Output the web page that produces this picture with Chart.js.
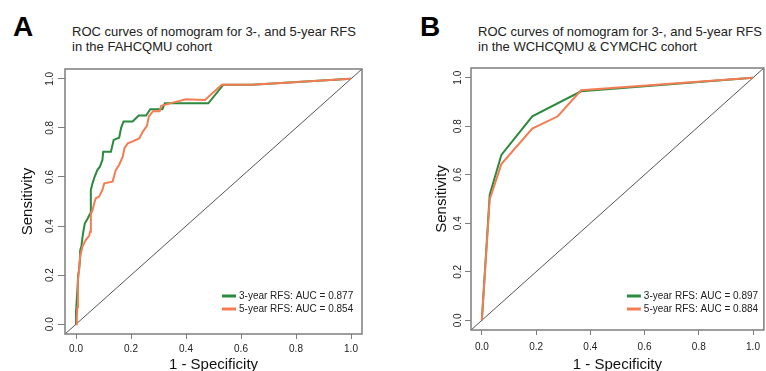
<!DOCTYPE html>
<html lang="en">
<head>
<meta charset="UTF-8">
<title>ROC curves of nomogram for 3-, and 5-year RFS</title>
<script src="https://cdn.jsdelivr.net/npm/chart.js"></script>
<style>
    * { margin: 0; padding: 0; box-sizing: border-box; }
    body {
        width: 766px;
        height: 371px;
        overflow: hidden;
        background: #fff;
        position: relative;
        font-family: 'Liberation Sans', Arial, sans-serif;
        color: #111;
    }
    canvas { position: absolute; top: 0; }
    #chartA { left: 0; }
    #chartB { left: 383px; }
    .tag {
        position: absolute;
        top: 13px;
        font-size: 28px;
        line-height: 28px;
        font-weight: bold;
        color: #000;
    }
    .title {
        position: absolute;
        top: 25px;
        font-size: 13px;
        line-height: 14.5px;
        color: #222;
        white-space: nowrap;
    }
</style>
</head>
<body>
    <div class="tag" style="left:13px">A</div>
    <div class="title" style="left:72px">ROC curves of nomogram for 3-, and 5-year RFS<br>in the FAHCQMU cohort</div>
    <canvas id="chartA" width="383" height="380"></canvas>

    <div class="tag" style="left:420px">B</div>
    <div class="title" style="left:478px">ROC curves of nomogram for 3-, and 5-year RFS<br>in the WCHCQMU &amp; CYMCHC cohort</div>
    <canvas id="chartB" width="383" height="380"></canvas>

<script>
    // axis setup shared by both panels
    const tickValues = [0, 0.2, 0.4, 0.6, 0.8, 1.0];
    const axisRange = [-0.04, 1.04];

    // panel A - FAHCQMU cohort
    const fprA3 = [0, 0, 0.005, 0.008, 0.011, 0.015, 0.015, 0.02, 0.023, 0.027, 0.032, 0.042, 0.051, 0.054, 0.06, 0.068, 0.078, 0.087, 0.096, 0.099, 0.127, 0.137, 0.157, 0.164, 0.173, 0.206, 0.228, 0.255, 0.27, 0.314, 0.323, 0.481, 0.536, 0.64, 1];
    const tprA3 = [0, 0.05, 0.14, 0.2, 0.22, 0.27, 0.30, 0.32, 0.35, 0.38, 0.41, 0.43, 0.45, 0.547, 0.574, 0.601, 0.629, 0.642, 0.669, 0.703, 0.703, 0.751, 0.76, 0.80, 0.826, 0.826, 0.85, 0.85, 0.876, 0.876, 0.90, 0.90, 0.976, 0.976, 1];
    const fprA5 = [0, 0.003, 0.005, 0.007, 0.011, 0.015, 0.023, 0.035, 0.048, 0.051, 0.054, 0.06, 0.068, 0.072, 0.084, 0.096, 0.103, 0.133, 0.145, 0.157, 0.17, 0.176, 0.188, 0.206, 0.23, 0.243, 0.258, 0.265, 0.28, 0.304, 0.31, 0.359, 0.40, 0.469, 0.53, 0.64, 1];
    const tprA5 = [0, 0.03, 0.07, 0.18, 0.22, 0.275, 0.315, 0.343, 0.36, 0.377, 0.45, 0.465, 0.50, 0.513, 0.52, 0.547, 0.574, 0.581, 0.629, 0.65, 0.683, 0.717, 0.737, 0.745, 0.757, 0.785, 0.808, 0.847, 0.868, 0.868, 0.89, 0.905, 0.917, 0.914, 0.976, 0.976, 1];
    const legendA = ['3-year RFS: AUC = 0.877', '5-year RFS: AUC = 0.854'];

    // panel B - WCHCQMU & CYMCHC cohort
    const fprB3 = [0, 0.029, 0.072, 0.186, 0.366, 1];
    const tprB3 = [0, 0.518, 0.682, 0.841, 0.944, 1];
    const fprB5 = [0, 0.029, 0.072, 0.186, 0.28, 0.366, 1];
    const tprB5 = [0, 0.498, 0.644, 0.79, 0.841, 0.948, 1];
    const legendB = ['3-year RFS: AUC = 0.897', '5-year RFS: AUC = 0.884'];

    const green = '#2b8a3e';
    const orange = '#f47c52';

    Chart.defaults.font.family = "'Liberation Sans', Arial, sans-serif";

    function pts(xs, ys) {
        return xs.map((x, i) => ({ x: x, y: ys[i] }));
    }

    // box around the plot + legend in the bottom right corner
    const rocFrame = {
        id: 'rocFrame',
        afterDatasetsDraw(chart, args, opts) {
            const a = chart.chartArea;
            const ctx = chart.ctx;
            ctx.save();
            ctx.strokeStyle = '#7d7d7d';
            ctx.lineWidth = 1.5;
            ctx.strokeRect(a.left, a.top, a.right - a.left, a.bottom - a.top);

            ctx.font = '10px ' + Chart.defaults.font.family;
            ctx.textBaseline = 'middle';
            ctx.textAlign = 'left';
            opts.labels.forEach((txt, i) => {
                const y = a.bottom - opts.rows[i];
                const x0 = a.right - opts.fromRight;
                ctx.strokeStyle = opts.colors[i];
                ctx.lineWidth = 3;
                ctx.beginPath();
                ctx.moveTo(x0, y);
                ctx.lineTo(x0 + 14, y);
                ctx.stroke();
                ctx.fillStyle = '#222';
                ctx.fillText(txt, x0 + 17, y);
            });
            ctx.restore();
        }
    };

    function makeChart(id, s) {
        return new Chart(document.getElementById(id), {
            type: 'scatter',
            data: {
                datasets: [
                    { data: pts(s.fpr3, s.tpr3), showLine: true, borderColor: green, borderWidth: 2, pointRadius: 0, order: 2 },
                    { data: pts(s.fpr5, s.tpr5), showLine: true, borderColor: orange, borderWidth: 2, pointRadius: 0, order: 1 },
                    { data: pts(axisRange, axisRange), showLine: true, borderColor: '#555', borderWidth: 1, pointRadius: 0, order: 3 }
                ]
            },
            options: {
                responsive: false,
                animation: false,
                devicePixelRatio: 1,
                layout: { padding: { top: s.top, right: s.right, left: 0, bottom: 0 } },
                plugins: {
                    legend: { display: false },
                    tooltip: { enabled: false },
                    rocFrame: { labels: s.legend, colors: [green, orange], fromRight: s.keyRight, rows: s.keyRows }
                },
                scales: {
                    x: {
                        type: 'linear',
                        min: axisRange[0],
                        max: axisRange[1],
                        afterBuildTicks: sc => { sc.ticks = tickValues.map(v => ({ value: v })); },
                        afterFit: sc => { sc.height = s.xh; },
                        grid: { drawOnChartArea: false, tickLength: 5, color: '#7d7d7d' },
                        border: { display: false },
                        ticks: { padding: s.xpad, color: '#222', font: { size: 10 }, maxRotation: 0, autoSkip: false, callback: v => v.toFixed(1) },
                        title: { display: true, text: '1 - Specificity', color: '#111', font: { size: 15 }, padding: { top: 0, bottom: 6.5 } }
                    },
                    y: {
                        type: 'linear',
                        min: axisRange[0],
                        max: axisRange[1],
                        afterBuildTicks: sc => { sc.ticks = tickValues.map(v => ({ value: v })); },
                        afterFit: sc => { sc.width = s.yw; },
                        grid: { drawOnChartArea: false, tickLength: s.ytl, color: '#7d7d7d' },
                        border: { display: false },
                        ticks: { padding: s.ypad, color: '#222', font: { size: 10 }, minRotation: 90, maxRotation: 90, crossAlign: 'center', autoSkip: false, callback: v => v.toFixed(1) },
                        title: { display: true, text: 'Sensitivity', color: '#111', font: { size: 15 }, padding: { top: s.ytp, bottom: 0 } }
                    }
                }
            },
            plugins: [rocFrame]
        });
    }

    makeChart('chartA', {
        fpr3: fprA3, tpr3: tprA3, fpr5: fprA5, tpr5: tprA5, legend: legendA,
        top: 69, right: 21, xh: 46, yw: 65, xpad: 4, ypad: 1, ytl: 7, ytp: 19,
        keyRight: 140, keyRows: [38, 25]
    });

    makeChart('chartB', {
        fpr3: fprB3, tpr3: tprB3, fpr5: fprB5, tpr5: tprB5, legend: legendB,
        top: 68, right: 1, xh: 50, yw: 88, xpad: 6, ypad: 0, ytl: 6, ytp: 50,
        keyRight: 137, keyRows: [34, 21]
    });
</script>
</body>
</html>
